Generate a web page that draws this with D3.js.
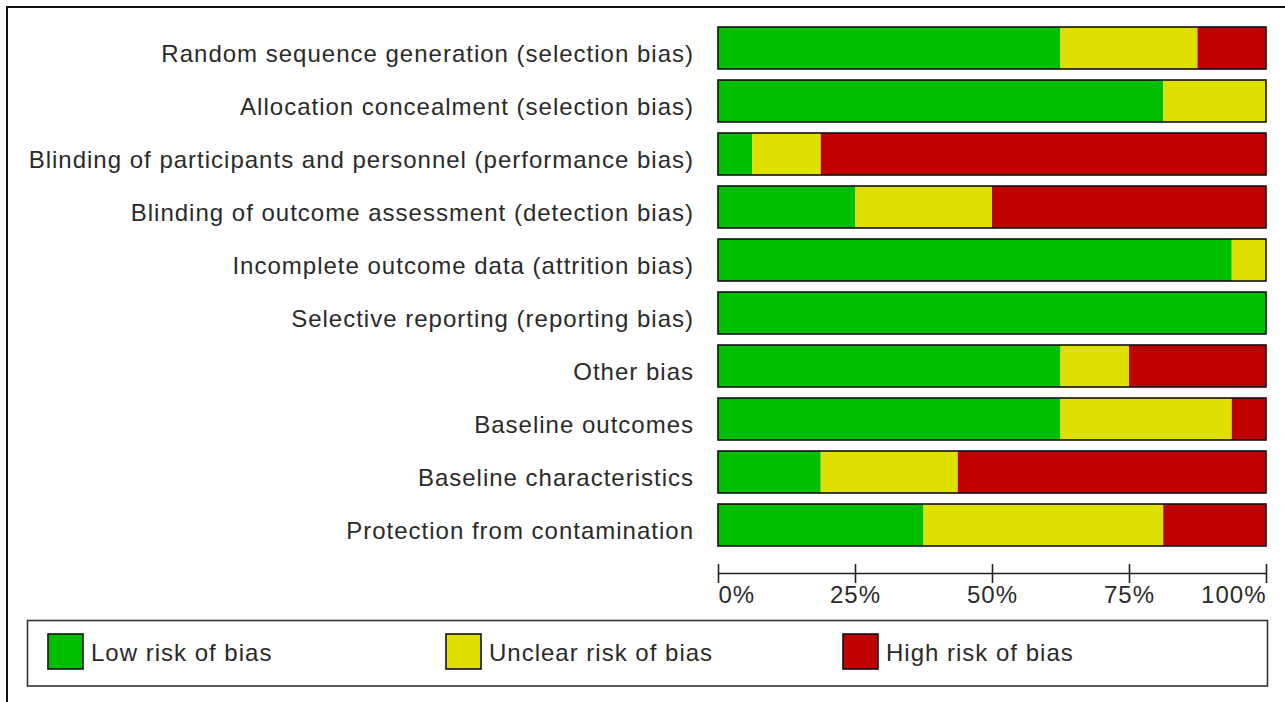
<!DOCTYPE html>
<html>
<head>
<meta charset="utf-8">
<script src="https://cdn.jsdelivr.net/npm/d3@7"></script>
<style>
  body { margin: 0; background: #fff; }
  text { font-family: Arial, "Liberation Sans", sans-serif; fill: #2a2a2a; letter-spacing: 1px; }
</style>
</head>
<body>
<div id="chart"></div>
<script>

  /**
   * Data
   */

  const domains = [
    'Random sequence generation (selection bias)',
    'Allocation concealment (selection bias)',
    'Blinding of participants and personnel (performance bias)',
    'Blinding of outcome assessment (detection bias)',
    'Incomplete outcome data (attrition bias)',
    'Selective reporting (reporting bias)',
    'Other bias',
    'Baseline outcomes',
    'Baseline characteristics',
    'Protection from contamination',
  ];

  const lowRisk     = [62.5, 81.25, 6.25, 25, 93.75, 100, 62.5, 62.5, 18.75, 37.5];
  const unclearRisk = [25, 18.75, 12.5, 25, 6.25, 0, 12.5, 31.25, 25, 43.75];
  const highRisk    = [12.5, 0, 81.25, 50, 0, 0, 25, 6.25, 56.25, 18.75];

  const tickValues = [0, 25, 50, 75, 100];
  const tickLabels = ['0%', '25%', '50%', '75%', '100%'];

  const seriesKeys   = ['low', 'unclear', 'high'];
  const seriesNames  = ['Low risk of bias', 'Unclear risk of bias', 'High risk of bias'];
  const seriesColors = ['#00bf00', '#dfdf00', '#bf0000'];


  /**
   * Setup
   */

  const width = 1285;
  const height = 702;

  const rows = domains.map((name, i) => ({
    name,
    low: lowRisk[i],
    unclear: unclearRisk[i],
    high: highRisk[i],
  }));

  const svg = d3.select('#chart')
                .append('svg')
                .attr('width', width)
                .attr('height', height);

  const x = d3.scaleLinear()
              .domain([0, 100])
              .range([718, 1266]);

  const y = d3.scaleBand()
              .domain(domains)
              .range([27, 546])
              .paddingInner(11 / 53)
              .paddingOuter(0);

  const color = d3.scaleOrdinal()
                  .domain(seriesKeys)
                  .range(seriesColors);

  // outer frame (top and left only)
  svg.append('path')
     .attr('d', `M7,${height} V7 H${width}`)
     .attr('fill', 'none')
     .attr('stroke', '#111')
     .attr('stroke-width', 2);


  /**
   * Bars
   */

  const stacked = d3.stack().keys(seriesKeys)(rows);

  svg.append('g')
     .selectAll('g')
     .data(stacked)
     .enter()
     .append('g')
     .attr('fill', d => color(d.key))
     .selectAll('rect')
     .data(d => d)
     .enter()
     .append('rect')
     .attr('x', d => x(d[0]))
     .attr('y', d => y(d.data.name))
     .attr('width', d => x(d[1]) - x(d[0]))
     .attr('height', y.bandwidth());

  svg.append('g')
     .selectAll('rect')
     .data(rows)
     .enter()
     .append('rect')
     .attr('x', x(0))
     .attr('y', d => y(d.name))
     .attr('width', x(100) - x(0))
     .attr('height', y.bandwidth())
     .attr('fill', 'none')
     .attr('stroke', '#111')
     .attr('stroke-width', 1.6);

  svg.append('g')
     .selectAll('text')
     .data(rows)
     .enter()
     .append('text')
     .attr('x', 694)
     .attr('y', d => y(d.name) + y.bandwidth() / 2 + 14)
     .attr('text-anchor', 'end')
     .attr('font-size', 24)
     .text(d => d.name);


  /**
   * Axis
   */

  const axis = svg.append('g')
                  .attr('transform', 'translate(0,573)')
                  .call(d3.axisBottom(x)
                          .tickValues(tickValues)
                          .tickSize(0)
                          .tickFormat((d, i) => tickLabels[i]));

  axis.select('.domain')
      .attr('stroke', '#222')
      .attr('stroke-width', 1.6);

  axis.selectAll('.tick line')
      .attr('y1', -9)
      .attr('y2', 10)
      .attr('stroke', '#222')
      .attr('stroke-width', 1.6);

  axis.selectAll('.tick text')
      .attr('y', 30)
      .attr('dy', null)
      .attr('font-size', 24)
      .attr('font-family', null)
      .attr('fill', '#2a2a2a')
      .attr('text-anchor', (d, i) => i === 0 ? 'start' : (i === tickValues.length - 1 ? 'end' : 'middle'));


  /**
   * Legend
   */

  svg.append('rect')
     .attr('x', 27.5)
     .attr('y', 620.5)
     .attr('width', 1240)
     .attr('height', 65.5)
     .attr('fill', 'none')
     .attr('stroke', '#333')
     .attr('stroke-width', 1.6);

  const legendX = [48, 446, 843];

  const legend = svg.append('g')
                    .selectAll('g')
                    .data(seriesKeys)
                    .enter()
                    .append('g')
                    .attr('transform', (d, i) => `translate(${legendX[i]},634)`);

  legend.append('rect')
        .attr('width', 35)
        .attr('height', 35)
        .attr('fill', d => color(d))
        .attr('stroke', '#111')
        .attr('stroke-width', 1.6);

  legend.append('text')
        .attr('x', 43)
        .attr('y', 27)
        .attr('font-size', 24)
        .text((d, i) => seriesNames[i]);

</script>
</body>
</html>
